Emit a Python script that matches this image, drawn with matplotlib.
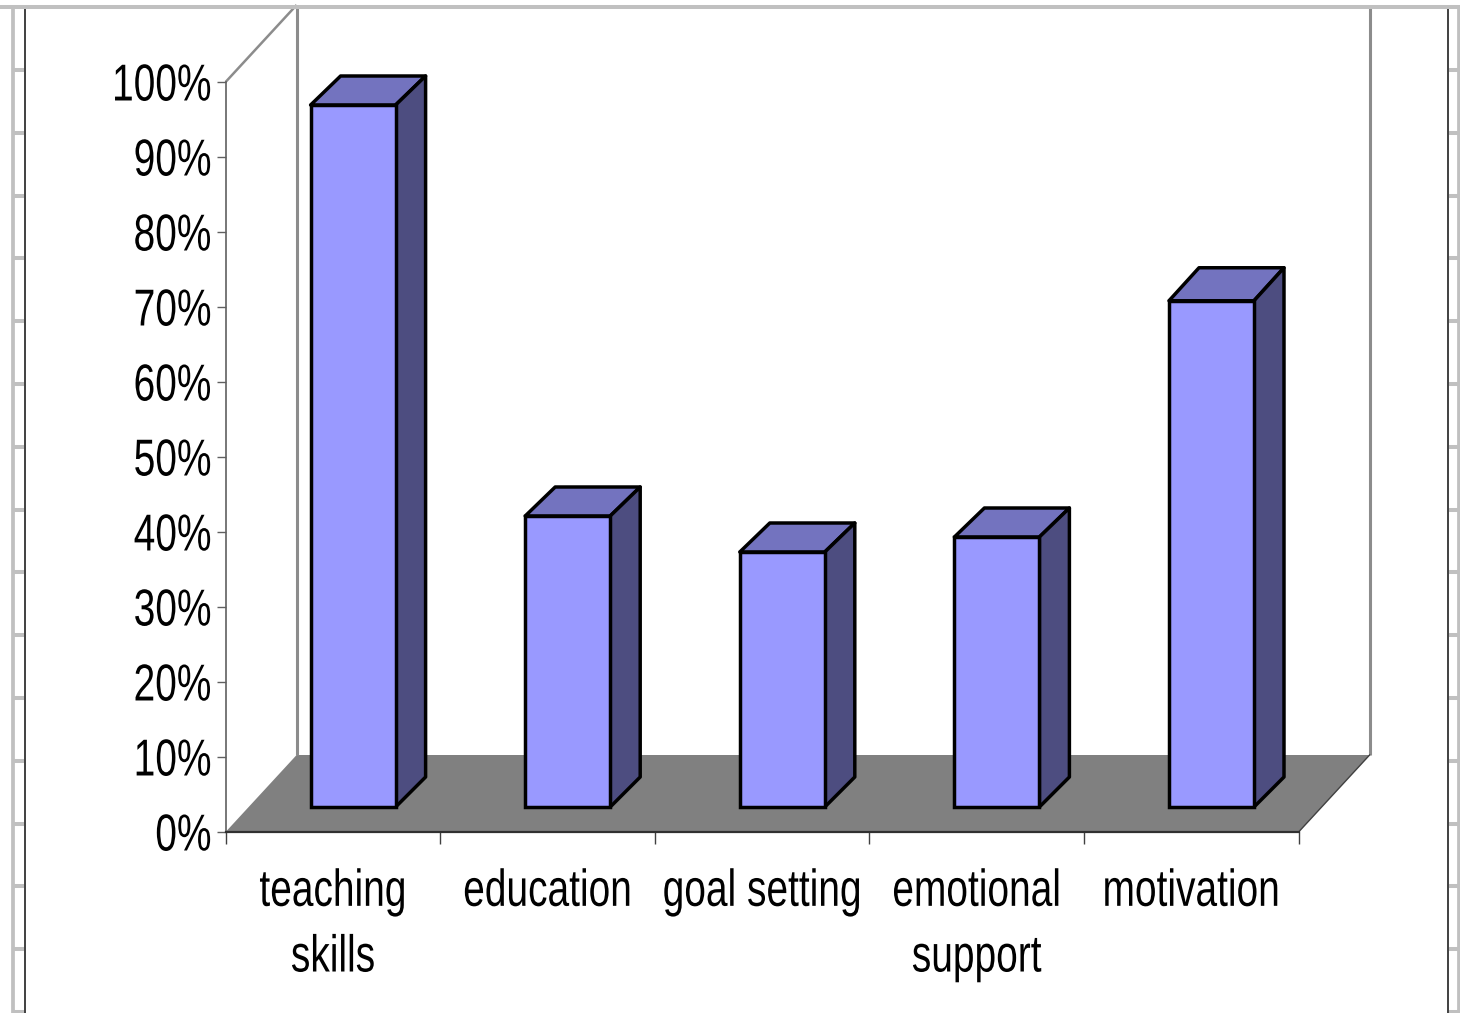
import matplotlib
matplotlib.use("Agg")
import matplotlib.pyplot as plt
from matplotlib.lines import Line2D
from matplotlib.patches import Polygon
from matplotlib.patheffects import AbstractPathEffect
from matplotlib.transforms import Affine2D

plt.rcParams['font.family'] = ['Liberation Sans']

categories = ["teaching\nskills", "education", "goal setting", "emotional\nsupport", "motivation"]
values = [93.6, 38.8, 34.0, 36.0, 67.5]
y_ticks = [0, 10, 20, 30, 40, 50, 60, 70, 80, 90, 100]

W, H = 1460, 1013
PX_X = 1073 / 5   # pixels per x unit
PX_Y = 750 / 100  # pixels per y unit


# the reference font is a narrow Arial: small font size, glyphs stretched upward
class Stretch(AbstractPathEffect):
    def __init__(self, sy, middle=False):
        super().__init__()
        self.sy = sy
        self.middle = middle

    def draw_path(self, renderer, gc, tpath, affine, rgbFace=None):
        if self.middle:
            ys = affine.transform(tpath.vertices)[:, 1]
            ref = (ys.min() + ys.max()) / 2
        else:
            ref = affine.transform((0, 0))[1]
        tall = affine + Affine2D().translate(0, -ref).scale(1, self.sy).translate(0, ref)
        renderer.draw_path(gc, tpath, tall, rgbFace)


fig = plt.figure(figsize=(W / 100, H / 100), dpi=100, facecolor="white")
ax = fig.add_axes([225.6 / W, (H - 832) / H, 1073 / W, 750 / H], facecolor="none")
ax.set_xlim(0, 5)
ax.set_ylim(0, 100)

# depth of the walls and of the bars, in data units
wall_dx, wall_dy = 71 / PX_X, 77 / PX_Y
bar_dx, bar_dy = 30 / PX_X, 30 / PX_Y
top_dy = [d / PX_Y for d in (29, 29, 29, 29, 33)]
bar_w = 85 / PX_X
bar_off = 85 / PX_X
bar_base = 25 / PX_Y

# floor and back wall
ax.add_patch(Polygon([(0, 0), (5, 0), (5 + wall_dx, wall_dy), (wall_dx, wall_dy)],
                     facecolor="#808080", edgecolor="none", clip_on=False, zorder=1))
grey = "#8c8c8c"
ax.plot([0, wall_dx], [100, 100 + wall_dy], color=grey, lw=1.8, clip_on=False, zorder=1, solid_capstyle="butt")
ax.plot([wall_dx, wall_dx], [wall_dy, 100 + wall_dy], color=grey, lw=2.2, clip_on=False, zorder=1, solid_capstyle="butt")
ax.plot([5 + wall_dx, 5 + wall_dx], [wall_dy, 100 + wall_dy], color=grey, lw=2.2, clip_on=False, zorder=1, solid_capstyle="butt")
ax.plot([5, 5 + wall_dx], [0, wall_dy], color="#404040", lw=1, clip_on=False, zorder=2)

# bars
lefts = [i + bar_off for i in range(len(values))]
ax.bar(lefts, values, width=bar_w, bottom=bar_base, align="edge",
       color="#9999FF", edgecolor="black", linewidth=2.5, zorder=4, clip_on=False)
for x, v, t_dy in zip(lefts, values, top_dy):
    top = bar_base + v
    ax.add_patch(Polygon([(x, top), (x + bar_w, top), (x + bar_w + bar_dx, top + t_dy), (x + bar_dx, top + t_dy)],
                         facecolor="#7373BF", edgecolor="black", lw=2.5, joinstyle="round", clip_on=False, zorder=3))
    ax.add_patch(Polygon([(x + bar_w, bar_base), (x + bar_w + bar_dx, bar_base + bar_dy),
                          (x + bar_w + bar_dx, top + t_dy), (x + bar_w, top)],
                         facecolor="#4D4D80", edgecolor="black", lw=2.5, joinstyle="round", clip_on=False, zorder=3))

# axes
for side in ["top", "right"]:
    ax.spines[side].set_visible(False)
ax.spines["left"].set_color("#606060")
ax.spines["left"].set_linewidth(1.2)
ax.spines["left"].set_zorder(5)
ax.spines["bottom"].set_color("#303030")
ax.spines["bottom"].set_linewidth(1.6)
ax.spines["bottom"].set_zorder(5)

ax.set_yticks(y_ticks)
ax.set_yticklabels([f"{t}%" for t in y_ticks], fontsize=28)
ax.tick_params(axis="y", length=6.2, width=1, color="#606060", pad=4)
ax.set_xticks(range(6))
ax.set_xticklabels([])
ax.tick_params(axis="x", which="major", length=8.6, width=1, color="#404040")
ax.set_xticks([i + 0.5 for i in range(5)], minor=True)
ax.set_xticklabels(categories, minor=True, fontsize=28, linespacing=2.06)
ax.tick_params(axis="x", which="minor", length=0, pad=33)

for lab in ax.get_yticklabels():
    lab.set_path_effects([Stretch(1.335, middle=True)])
for lab in ax.get_xticklabels(minor=True):
    lab.set_path_effects([Stretch(1.335)])


# page frame behind the chart
def fx(px):
    return px / W


def fy(py):
    return (H - py) / H


light = "#c0c0c0"
dark = "#404040"
frame = [
    ([0, W], [7, 7], light, 2.9),
    ([12.5, 12.5], [7, H], light, 2.7),
    ([1459, 1459], [7, H], light, 2.7),
    ([25, 25], [9, H], dark, 1.4),
    ([1448, 1448], [9, H], dark, 1.4),
]
for k in range(16):
    yy = 70 + 62.8 * k
    frame.append(([14, 24], [yy, yy], light, 2.9))
    frame.append(([1449, 1458], [yy, yy], light, 2.9))
for xs, ys, col, lw in frame:
    fig.add_artist(Line2D([fx(a) for a in xs], [fy(b) for b in ys], color=col, lw=lw, zorder=10, solid_capstyle="butt"))

fig.savefig("out.png", dpi=100)
